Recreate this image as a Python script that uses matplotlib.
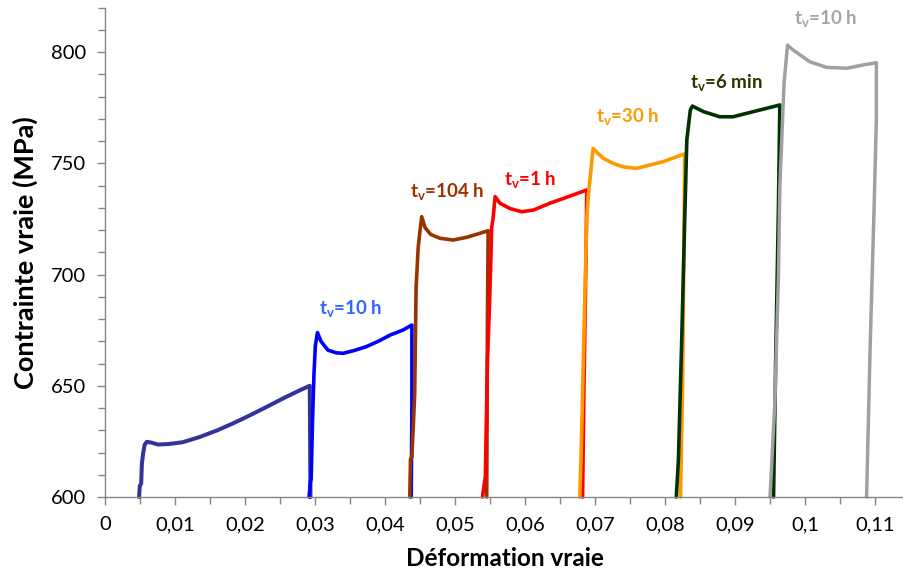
import matplotlib
matplotlib.use("Agg")
import matplotlib.pyplot as plt
from matplotlib.ticker import MultipleLocator, FixedLocator

plt.rcParams['font.family'] = ['Lato', 'DejaVu Sans']
plt.rcParams['mathtext.fontset'] = 'custom'
plt.rcParams['mathtext.bf'] = 'Lato:bold'
plt.rcParams['mathtext.rm'] = 'Lato:bold'

# ---- data ----
navy_x = [0.0048, 0.0049, 0.0051, 0.0052, 0.0054, 0.0056, 0.0059, 0.0065, 0.0075, 0.0090,
          0.0110, 0.0135, 0.0160, 0.0183, 0.0205, 0.0231, 0.0255, 0.0278, 0.0292, 0.0293]
navy_y = [600, 605, 606, 615, 620, 623.5, 624.8, 624.5, 623.6, 623.8,
          624.6, 627.0, 630.0, 633.2, 636.5, 640.6, 644.5, 648.0, 650.0, 600]

blue_x = [0.0291, 0.0293, 0.0294, 0.0296, 0.0298, 0.0300, 0.0303, 0.0308, 0.0318, 0.0330,
          0.0340, 0.0355, 0.0373, 0.0390, 0.0407, 0.0425, 0.0438, 0.0438, 0.0437]
blue_y = [600, 607, 608, 635, 655, 668, 673.9, 670, 666, 664.8,
          664.6, 665.8, 667.6, 670, 672.8, 675, 677.3, 640, 600]

brown_x = [0.0435, 0.0436, 0.0438, 0.0442, 0.0444, 0.0447, 0.0449, 0.0452, 0.0457, 0.0465,
           0.0478, 0.0497, 0.0516, 0.0535, 0.0547, 0.0546, 0.0545]
brown_y = [600, 617, 618, 646, 694, 712, 718, 726, 721, 718,
           716.3, 715.5, 716.7, 718.5, 719.7, 680, 600]

red_x = [0.0539, 0.0541, 0.0543, 0.0546, 0.0549, 0.0551, 0.0552, 0.0554, 0.0557, 0.0564,
         0.0578, 0.0595, 0.0612, 0.0635, 0.0659, 0.0688, 0.0687, 0.0684, 0.0682]
red_y = [600, 605, 609, 661, 687, 708, 721, 725, 735, 732,
         729.7, 728.2, 729, 732, 734.7, 738, 710, 650, 600]

orange_x = [0.0678, 0.0680, 0.0683, 0.0686, 0.0688, 0.0690, 0.0694, 0.0697, 0.0704, 0.0712,
            0.0726, 0.0740, 0.0759, 0.0778, 0.0797, 0.0817, 0.0828, 0.0827, 0.0825, 0.0822]
orange_y = [600, 620, 660, 700, 725, 735, 747, 756.7, 754.4, 752.2,
            749.9, 748.4, 747.7, 749.2, 750.7, 753, 754.2, 720, 650, 600]

green_x = [0.0816, 0.0819, 0.0824, 0.0828, 0.0831, 0.0836, 0.0839, 0.0855, 0.0878, 0.0897,
           0.0926, 0.0950, 0.0964, 0.0962, 0.0958, 0.0955]
green_y = [600, 616.6, 673.7, 724.5, 760.4, 773.9, 775.7, 773.2, 770.9, 770.9,
           773.2, 775.1, 776.2, 730, 660, 600]

gray_x = [0.0950, 0.0957, 0.0962, 0.0964, 0.0970, 0.0975, 0.0983, 0.1007, 0.1031, 0.1060,
          0.1083, 0.1102, 0.1102, 0.1099, 0.1093, 0.1088]
gray_y = [600, 643.6, 699, 739.5, 785.9, 803.1, 800.9, 795.6, 793.1, 792.7,
          794.2, 795.2, 770, 733, 666, 600]

labels = ["10 h", "104 h", "1 h", "30 h", "6 min", "10 h"]
label_x = [0.0350, 0.0488, 0.0607, 0.0747, 0.0888, 0.1029]
label_y = [684.5, 737.0, 742.5, 770.5, 786.0, 814.5]
label_colors = ['#3366FF', '#993300', '#FF0000', '#FF9900', '#333300', '#A6A6A6']

xtick_vals = [0, 0.01, 0.02, 0.03, 0.04, 0.05, 0.06, 0.07, 0.08, 0.09, 0.10, 0.11]
xtick_labels = ["0", "0,01", "0,02", "0,03", "0,04", "0,05", "0,06", "0,07", "0,08", "0,09", "0,1", "0,11"]

# ---- figure ----
fig = plt.figure(figsize=(9.04, 5.79), dpi=100)
ax = fig.add_axes([0.1167, 0.1416, 1.0 - 0.1167, 0.987 - 0.1416])

series = [
    (navy_x, navy_y, '#333399', 2.9),
    (blue_x, blue_y, '#0000FF', 2.6),
    (brown_x, brown_y, '#993300', 2.6),
    (red_x, red_y, '#FF0000', 2.6),
    (orange_x, orange_y, '#FF9900', 2.6),
    (green_x, green_y, '#003300', 2.6),
    (gray_x, gray_y, '#A0A0A0', 2.5),
]
for xs, ys, c, lw in series:
    ax.plot(xs, ys, color=c, lw=lw, solid_joinstyle='round', solid_capstyle='round',
            clip_on=False)

for lab, lx, ly, c in zip(labels, label_x, label_y, label_colors):
    ax.text(lx, ly, r't$_{\mathbf{v}}$=' + lab, color=c, fontsize=13.5, fontweight='bold',
            ha='center', va='center')

ax.set_xlim(0, 0.11415)
ax.set_ylim(600, 820)

ax.xaxis.set_major_locator(FixedLocator(xtick_vals))
ax.set_xticklabels(xtick_labels)
ax.xaxis.set_minor_locator(MultipleLocator(0.005))
ax.yaxis.set_major_locator(MultipleLocator(50))
ax.yaxis.set_minor_locator(MultipleLocator(10))

for s in ['top', 'right']:
    ax.spines[s].set_visible(False)
for s in ['left', 'bottom']:
    ax.spines[s].set_color('#868686')
    ax.spines[s].set_linewidth(1.0)

ax.tick_params(axis='both', which='major', direction='out', length=6, width=1,
               color='#868686', labelsize=14.5, labelcolor='black')
ax.tick_params(axis='both', which='minor', direction='out', length=5, width=1,
               color='#868686')
ax.tick_params(axis='x', which='major', pad=8)
ax.tick_params(axis='y', which='major', pad=8)

ax.set_xlabel('Déformation vraie', fontsize=17.5, fontweight='bold', labelpad=10)
ax.set_ylabel('Contrainte vraie (MPa)', fontsize=19.5, fontweight='bold', labelpad=9)

fig.savefig('out.png', dpi=100)
